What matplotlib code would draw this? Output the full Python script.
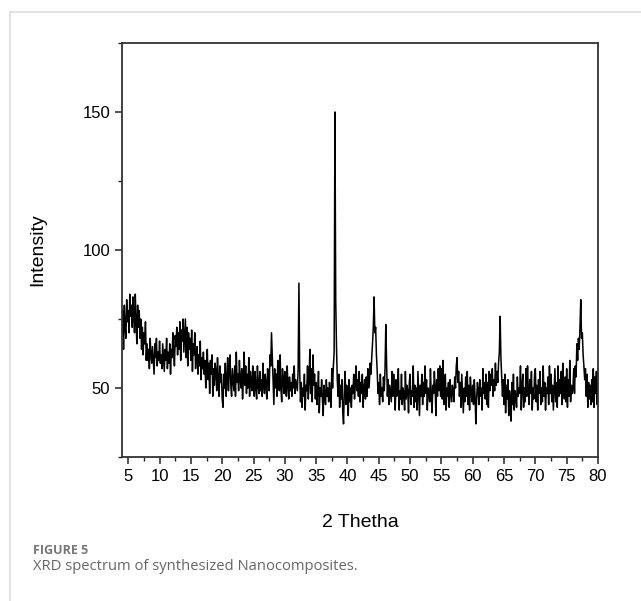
import numpy as np
import matplotlib
matplotlib.use("Agg")
import matplotlib.pyplot as plt
from matplotlib.lines import Line2D
from matplotlib.ticker import MultipleLocator

plt.rcParams["font.family"] = ["Liberation Sans", "DejaVu Sans"]

# --- data (2 theta grid 4..80, 0.125 deg step) ---
two_theta_start, two_theta_step = 4.0, 0.125
intensity = [
    70, 78, 64, 80, 72, 68, 82, 74,   # 4
    78, 70, 84, 76, 80, 72, 83, 76,   # 5
    70, 84, 74, 66, 80, 72, 78, 68,   # 6
    75, 64, 72, 62, 70, 66, 74, 60,   # 7
    66, 60, 64, 57, 68, 62, 59, 65,   # 8
    60, 55, 66, 61, 68, 58, 63, 60,   # 9
    67, 59, 62, 57, 66, 61, 56, 64,   # 10
    60, 68, 57, 63, 59, 66, 55, 64,   # 11
    61, 70, 63, 58, 69, 65, 72, 62,   # 12
    70, 64, 74, 60, 71, 67, 75, 63,   # 13
    69, 75, 61, 72, 58, 70, 64, 68,   # 14
    60, 71, 56, 66, 62, 70, 57, 63,   # 15
    65, 55, 62, 58, 67, 53, 61, 57,   # 16
    63, 55, 60, 50, 58, 64, 53, 59,   # 17
    48, 60, 55, 62, 47, 57, 51, 59,   # 18
    56, 49, 61, 53, 47, 58, 52, 55,   # 19
    46, 43, 55, 50, 59, 47, 53, 61,   # 20
    49, 56, 62, 51, 47, 57, 53, 49,   # 21
    58, 47, 63, 52, 55, 49, 60, 53,   # 22
    50, 57, 46, 53, 63, 51, 58, 48,   # 23
    55, 50, 61, 47, 56, 52, 49, 58,   # 24
    53, 47, 56, 50, 46, 58, 51, 48,   # 25
    56, 49, 53, 47, 59, 51, 48, 55,   # 26
    51, 46, 57, 52, 49, 62, 58, 70,   # 27
    61, 53, 44, 57, 50, 55, 47, 60,   # 28
    52, 49, 62, 50, 45, 57, 53, 48,   # 29
    56, 50, 47, 58, 51, 46, 54, 49,   # 30
    52, 47, 55, 50, 58, 48, 53, 51,   # 31
    49, 57, 88, 56, 45, 52, 43, 50,   # 32
    47, 55, 42, 51, 49, 58, 46, 53,   # 33
    64, 48, 57, 45, 62, 51, 55, 46,   # 34
    52, 44, 49, 56, 41, 50, 47, 53,   # 35
    46, 40, 51, 48, 44, 53, 47, 50,   # 36
    45, 52, 48, 43, 57, 50, 58, 63,   # 37
    150, 82, 65, 53, 47, 55, 43, 51,  # 38
    46, 53, 41, 37, 49, 56, 44, 51,   # 39
    47, 40, 53, 45, 50, 43, 51, 48,   # 40
    55, 46, 51, 58, 49, 53, 47, 56,   # 41
    45, 52, 48, 55, 43, 50, 53, 46,   # 42
    54, 47, 57, 50, 52, 59, 55, 61,   # 43
    66, 72, 83, 70, 72, 62, 56, 48,   # 44
    52, 44, 55, 47, 50, 45, 54, 49,   # 45
    57, 73, 59, 47, 53, 44, 51, 48,   # 46
    45, 56, 47, 55, 49, 42, 53, 47,   # 47
    50, 57, 42, 49, 46, 55, 44, 50,   # 48
    48, 42, 56, 46, 51, 49, 41, 52,   # 49
    55, 44, 49, 47, 58, 43, 51, 45,   # 50
    50, 42, 56, 48, 40, 51, 47, 55,   # 51
    44, 52, 47, 58, 48, 53, 42, 50,   # 52
    49, 45, 57, 47, 41, 51, 48, 56,   # 53
    50, 40, 53, 47, 57, 49, 58, 47,   # 54
    57, 46, 60, 44, 49, 55, 42, 50,   # 55
    47, 52, 43, 53, 48, 45, 51, 49,   # 56
    45, 54, 50, 58, 61, 52, 56, 47,   # 57
    52, 43, 55, 48, 41, 50, 45, 54,   # 58
    47, 56, 44, 51, 42, 54, 49, 45,   # 59
    51, 44, 53, 47, 37, 46, 52, 49,   # 60
    44, 53, 47, 50, 42, 57, 48, 52,   # 61
    46, 55, 44, 52, 43, 56, 49, 55,   # 62
    51, 57, 47, 53, 49, 59, 51, 56,   # 63
    52, 59, 63, 76, 61, 54, 47, 53,   # 64
    44, 55, 41, 51, 46, 53, 40, 49,   # 65
    46, 38, 52, 44, 55, 42, 49, 47,   # 66
    43, 54, 47, 50, 48, 58, 42, 51,   # 67
    55, 43, 50, 45, 57, 47, 58, 49,   # 68
    44, 53, 48, 56, 42, 50, 46, 55,   # 69
    57, 45, 51, 42, 53, 48, 56, 44,   # 70
    50, 45, 58, 47, 52, 42, 50, 48,   # 71
    54, 44, 58, 48, 55, 45, 51, 42,   # 72
    50, 57, 45, 52, 43, 58, 47, 53,   # 73
    48, 56, 44, 59, 50, 46, 54, 45,   # 74
    57, 43, 53, 47, 60, 45, 51, 48,   # 75
    50, 57, 48, 58, 54, 66, 60, 68,   # 76
    64, 72, 82, 68, 70, 62, 58, 53,   # 77
    57, 47, 55, 43, 52, 46, 51, 44,   # 78
    53, 45, 57, 43, 54, 48, 56, 44,   # 79
    57,                               # 80
]
two_theta = two_theta_start + two_theta_step * np.arange(len(intensity))

x_ticks = list(range(5, 81, 5))
y_ticks = [50, 100, 150]

fig = plt.figure(figsize=(6.41, 6.01), dpi=100)
ax = fig.add_axes([0.1903, 0.2396, 0.7426, 0.6889])

ax.plot(two_theta, intensity, color="black", linewidth=1.1)

ax.set_xlim(4, 80)
ax.set_ylim(25, 175)
ax.set_xticks(x_ticks)
ax.set_yticks(y_ticks)
ax.xaxis.set_minor_locator(MultipleLocator(2.5))
ax.yaxis.set_minor_locator(MultipleLocator(25))
ax.tick_params(which="major", direction="out", length=5, width=1.1,
               labelsize=12, colors="#222222", labelcolor="black")
ax.tick_params(which="minor", direction="out", length=3, width=1.0, colors="#222222")
for sp in ax.spines.values():
    sp.set_linewidth(1.3)
    sp.set_color("#333333")

ax.set_xlabel("2 Thetha", fontsize=14, labelpad=22)
ax.set_ylabel("Intensity", fontsize=14, labelpad=26)

# page frame lines
fig.add_artist(Line2D([10 / 641, 1], [1 - 12 / 601, 1 - 12 / 601], color="#dddddd", linewidth=1.2))
fig.add_artist(Line2D([10 / 641, 10 / 641], [0, 1 - 12 / 601], color="#dddddd", linewidth=1.2))

# caption
fig.text(33 / 641, 1 - 550 / 601, "FIGURE 5", fontsize=9, color="#777777",
         family=["Open Sans", "DejaVu Sans"], fontweight="bold", va="center")
fig.text(33 / 641, 1 - 566 / 601, "XRD spectrum of synthesized Nanocomposites.", fontsize=10.6,
         color="#666666", family=["Open Sans", "DejaVu Sans"], va="center")

fig.savefig("out.png", dpi=100)
